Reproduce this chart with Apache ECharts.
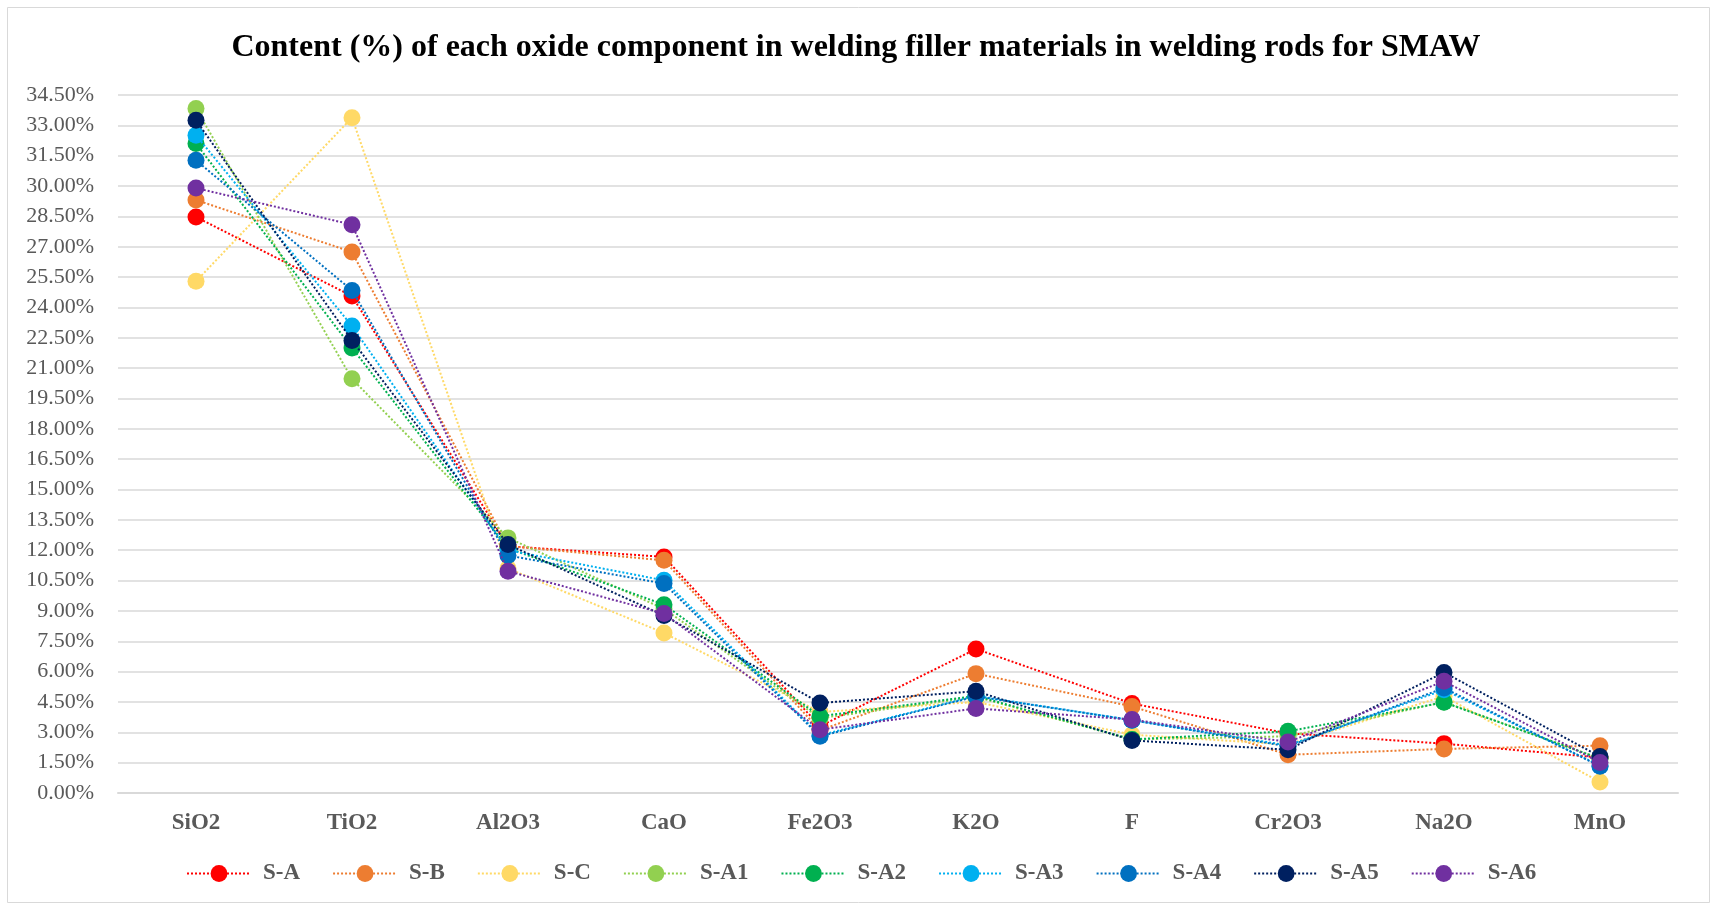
<!DOCTYPE html>
<html>
<head>
<meta charset="utf-8">
<script src="https://cdn.jsdelivr.net/npm/echarts@6/dist/echarts.min.js"></script>
<style>
html,body{margin:0;padding:0;background:#fff;}
#chart{width:1712px;height:905px;}
</style>
</head>
<body>
<div id="chart"></div>
<script>
const titleText = 'Content (%) of each oxide component in welding filler materials in welding rods for SMAW';
const categories = ['SiO2','TiO2','Al2O3','CaO','Fe2O3','K2O','F','Cr2O3','Na2O','MnO'];
const seriesNames = ['S-A','S-B','S-C','S-A1','S-A2','S-A3','S-A4','S-A5','S-A6'];
const seriesColors = ['#FF0000','#ED7D31','#FFD966','#92D050','#00B050','#00B0F0','#0070C0','#002060','#7030A0'];

const sA  = [28.47, 24.56, 12.20, 11.67, 3.30, 7.12, 4.42, 2.95, 2.44, 1.75];
const sB  = [29.31, 26.74, 12.20, 11.50, 3.10, 5.90, 4.28, 1.89, 2.18, 2.34];
const sC  = [25.29, 33.38, 11.10, 7.91, 4.00, 4.50, 2.88, 2.40, 4.78, 0.54];
const sA1 = [33.83, 20.47, 12.61, 9.10, 3.70, 4.75, 2.65, 2.80, 4.50, 1.70];
const sA2 = [32.10, 22.00, 12.10, 9.31, 3.79, 4.80, 2.65, 3.05, 4.48, 1.70];
const sA3 = [32.51, 23.08, 12.00, 10.51, 2.85, 4.80, 3.60, 2.35, 5.10, 1.35];
const sA4 = [31.27, 24.84, 11.74, 10.35, 2.80, 4.78, 3.60, 2.30, 5.19, 1.32];
const sA5 = [33.25, 22.37, 12.28, 8.77, 4.45, 5.03, 2.60, 2.14, 5.96, 1.80];
const sA6 = [29.90, 28.09, 10.96, 8.87, 3.13, 4.18, 3.63, 2.52, 5.52, 1.51];

const seriesData = [sA, sB, sC, sA1, sA2, sA3, sA4, sA5, sA6];

const yMin = 0, yMax = 34.5, yInterval = 1.5;
const serif = '"Liberation Serif", "DejaVu Serif", serif';

const chart = echarts.init(document.getElementById('chart'));
chart.setOption({
  backgroundColor: '#ffffff',
  animation: false,
  graphic: [{
    type: 'rect', left: 5, top: 5, silent: true,
    shape: {width: 1702, height: 895},
    style: {fill: 'none', stroke: '#d9d9d9', lineWidth: 1}
  }],
  title: {
    text: titleText,
    left: 'center',
    top: 27,
    textStyle: {fontFamily: serif, fontWeight: 'bold', fontSize: 32, color: '#000000'}
  },
  legend: {
    data: seriesNames,
    left: 181,
    top: 857,
    padding: 5,
    itemWidth: 64,
    itemHeight: 21,
    itemGap: 32,
    textStyle: {fontFamily: serif, fontWeight: 'bold', fontSize: 23, color: '#595959', padding: [0, 0, 0, 7]}
  },
  grid: {left: 118, right: 34, top: 95, bottom: 112, containLabel: false},
  xAxis: {
    type: 'category',
    data: categories,
    boundaryGap: true,
    axisLine: {show: true, lineStyle: {color: '#d9d9d9', width: 2}},
    axisTick: {show: false},
    axisLabel: {fontFamily: serif, fontWeight: 'bold', fontSize: 23, color: '#595959', margin: 19},
    splitLine: {show: false}
  },
  yAxis: {
    type: 'value',
    min: yMin, max: yMax, interval: yInterval,
    axisLine: {show: false},
    axisTick: {show: false},
    axisLabel: {
      fontFamily: serif, fontSize: 22, color: '#595959', margin: 24,
      formatter: v => v.toFixed(2) + '%'
    },
    splitLine: {show: true, lineStyle: {color: '#d9d9d9', width: 1.5}}
  },
  series: seriesNames.map((name, i) => ({
    name: name,
    type: 'line',
    data: seriesData[i],
    symbol: 'circle',
    symbolSize: 17,
    color: seriesColors[i],
    itemStyle: {color: seriesColors[i]},
    lineStyle: {color: seriesColors[i], width: 2, type: 'dotted'},
    z: 2 + i
  }))
});
</script>
</body>
</html>
